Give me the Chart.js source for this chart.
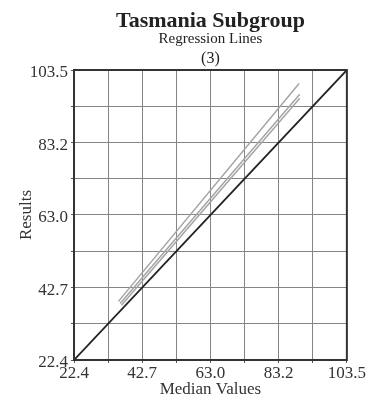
<!DOCTYPE html>
<html>
<head>
<meta charset="utf-8">
<script src="https://cdn.jsdelivr.net/npm/chart.js@4/dist/chart.umd.min.js"></script>
<style>
  html, body { margin: 0; padding: 0; background: #fff; }
  #wrap { width: 366px; height: 402px; }
</style>
</head>
<body>
<div id="wrap"><canvas id="chart"></canvas></div>
<script>
// --- Datos ---
const axisMin = 22.4;
const axisMax = 103.5;
const tickLabels = ['22.4', '42.7', '63.0', '83.2', '103.5'];
const gridValues = [22.4, 32.5375, 42.675, 52.8125, 62.95, 73.0875, 83.225, 93.3625, 103.5];

// Rectas de regresión (extremos inicial y final)
const lineNames = ['Regresión 1', 'Regresión 2', 'Regresión 3'];
const xStart = [35.6, 36.1, 36.5];
const yStart = [38.8, 38.2, 37.7];
const xEnd = [89.3, 89.5, 89.5];
const yEnd = [99.7, 96.7, 95.6];

// --- Títulos dibujados sobre el área del gráfico ---
const titlesPlugin = {
    id: 'titles',
    afterDraw(chart) {
        const { ctx, chartArea } = chart;
        const cx = (chartArea.left + chartArea.right) / 2;
        ctx.save();
        ctx.fillStyle = '#222';
        ctx.textAlign = 'center';
        ctx.textBaseline = 'middle';
        ctx.font = 'bold 22px "Liberation Serif"';
        ctx.fillText('Tasmania Subgroup', cx, 21);
        ctx.font = '15px "Liberation Serif"';
        ctx.fillText('Regression Lines', cx, 39);
        ctx.font = '16px "Liberation Serif"';
        ctx.fillText('(3)', cx, 59);
        ctx.restore();
    }
};

// Marco del área del gráfico
const framePlugin = {
    id: 'frame',
    afterDatasetsDraw(chart) {
        const { ctx, chartArea: a } = chart;
        ctx.save();
        ctx.strokeStyle = '#333';
        ctx.lineWidth = 2;
        ctx.strokeRect(a.left, a.top, a.right - a.left, a.bottom - a.top);
        ctx.restore();
    }
};

const regressionSets = lineNames.map((name, i) => ({
    label: name,
    data: [{ x: xStart[i], y: yStart[i] }, { x: xEnd[i], y: yEnd[i] }],
    showLine: true,
    borderColor: '#a4a4a4',
    borderWidth: 1.5,
    pointRadius: 0
}));

const identitySet = {
    label: 'y = x',
    data: [{ x: axisMin, y: axisMin }, { x: axisMax, y: axisMax }],
    showLine: true,
    borderColor: '#222',
    borderWidth: 1.8,
    pointRadius: 0
};

const setTicks = (scale) => {
    scale.ticks = gridValues.map(v => ({ value: v }));
};

const labelFor = (i) => (i % 2 === 0 ? tickLabels[i / 2] : '');

const font = { family: '"Liberation Serif"', size: 17 };

new Chart(document.getElementById('chart'), {
    type: 'scatter',
    data: { datasets: [...regressionSets, identitySet] },
    options: {
        responsive: true,
        maintainAspectRatio: false,
        animation: false,
        layout: { padding: { top: 70, right: 18, bottom: 0, left: 0 } },
        plugins: { legend: { display: false }, tooltip: { enabled: false } },
        scales: {
            x: {
                type: 'linear',
                min: axisMin,
                max: axisMax,
                afterBuildTicks: setTicks,
                afterFit: (s) => { s.height = 42; },
                grid: { color: '#858585', lineWidth: 1, tickLength: 3, tickColor: '#555' },
                border: { display: false },
                ticks: {
                    color: '#333',
                    font: font,
                    padding: 0,
                    maxRotation: 0,
                    autoSkip: false,
                    callback: (v, i) => labelFor(i)
                },
                title: {
                    display: true,
                    text: 'Median Values',
                    color: '#333',
                    font: font,
                    padding: { top: 0, bottom: 2 }
                }
            },
            y: {
                type: 'linear',
                min: axisMin,
                max: axisMax,
                afterBuildTicks: setTicks,
                afterFit: (s) => { s.width = 74; },
                grid: { color: '#858585', lineWidth: 1, tickLength: 3, tickColor: '#555' },
                border: { display: false },
                ticks: {
                    color: '#333',
                    font: font,
                    padding: 3,
                    labelOffset: 3,
                    autoSkip: false,
                    callback: (v, i) => labelFor(i)
                },
                title: {
                    display: true,
                    text: 'Results',
                    color: '#333',
                    font: { family: '"Liberation Serif"', size: 17 },
                    padding: { top: 16, bottom: 0 }
                }
            }
        }
    },
    plugins: [titlesPlugin, framePlugin]
});
</script>
</body>
</html>
